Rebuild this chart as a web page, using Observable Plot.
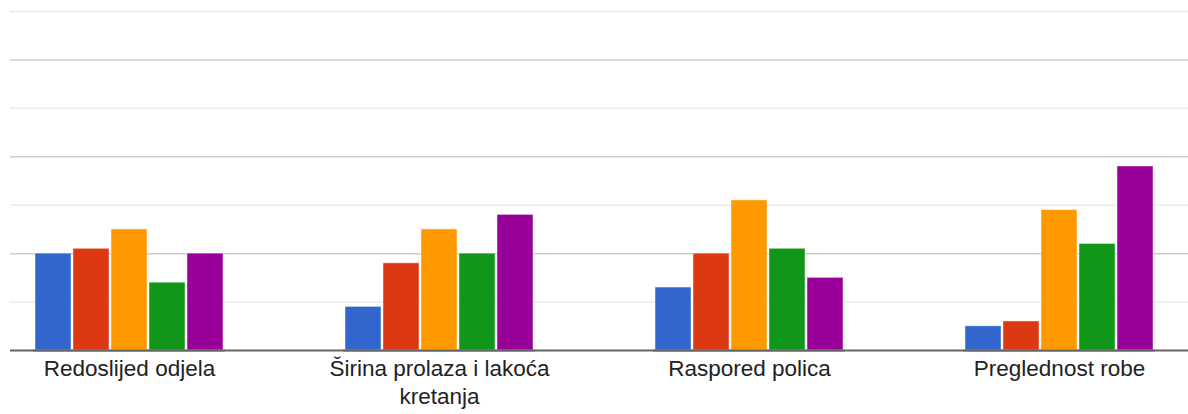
<!DOCTYPE html>
<html>
<head>
<meta charset="utf-8">
<script src="https://cdn.jsdelivr.net/npm/d3@7"></script>
<script src="https://cdn.jsdelivr.net/npm/@observablehq/plot@0.6"></script>
<style>
  html, body { margin: 0; padding: 0; background: #fff; }
  #chart { position: relative; width: 1188px; height: 414px; }
  #chart svg { display: block; position: absolute; left: 0; top: 0; }
</style>
</head>
<body>
<div id="chart"></div>
<script>
const categories = ["Redoslijed odjela", "Širina prolaza i lakoća kretanja", "Raspored polica", "Preglednost robe"];
const tickLabels = ["Redoslijed odjela", "Širina prolaza i lakoća\nkretanja", "Raspored polica", "Preglednost robe"];
const series = ["1", "2", "3", "4", "5"];
const colors = ["#3366cc", "#dc3912", "#ff9900", "#109618", "#990099"];
const s1 = [20, 9, 13, 5];
const s2 = [21, 18, 20, 6];
const s3 = [25, 25, 31, 29];
const s4 = [14, 20, 21, 22];
const s5 = [20, 28, 15, 38];
const majorTicks = [20, 40, 60];
const minorTicks = [10, 30, 50, 70];

const seriesValues = [s1, s2, s3, s4, s5];
const data = [];
categories.forEach((c, i) => {
  series.forEach((s, j) => data.push({category: c, series: s, value: seriesValues[j][i]}));
});
const labelOf = new Map(categories.map((c, i) => [c, tickLabels[i]]));

const common = {
  width: 1188,
  height: 414,
  marginTop: 11,
  marginBottom: 64,
  marginLeft: 10,
  marginRight: 0,
  y: {domain: [0, 70], axis: null}
};

// background layer: gridlines and baseline spanning the full width
const grid = Plot.plot({
  ...common,
  style: {fontFamily: "'Liberation Sans', Arial, sans-serif", background: "#fff"},
  marks: [
    Plot.ruleY(minorTicks, {stroke: "#ebebeb", strokeWidth: 1.5}),
    Plot.ruleY(majorTicks, {stroke: "#cccccc", strokeWidth: 1.5}),
    Plot.ruleY([0], {stroke: "#666", strokeWidth: 2})
  ]
});

// bar layer: grouped bars via fx facets
const bars = Plot.plot({
  ...common,
  style: {fontFamily: "'Liberation Sans', Arial, sans-serif", background: "transparent"},
  fx: {domain: categories, range: [33, 1156], paddingInner: 0.38, paddingOuter: 0, label: null},
  x: {domain: series, paddingInner: 0.06, paddingOuter: 0, axis: null},
  color: {domain: series, range: colors},
  marks: [
    Plot.barY(data, {fx: "category", x: "series", y: "value", fill: "series", stroke: "#ffffff", strokeOpacity: 0.45, strokeWidth: 1}),
    Plot.ruleY([0], {stroke: "#666", strokeWidth: 2}),
    Plot.axisFx({anchor: "bottom", tickSize: 0, tickPadding: 5, fontSize: 22.5, lineHeight: 1.26, fill: "#222", tickFormat: d => labelOf.get(d), label: null})
  ]
});

const el = document.getElementById("chart");
el.appendChild(grid);
el.appendChild(bars);
</script>
</body>
</html>
